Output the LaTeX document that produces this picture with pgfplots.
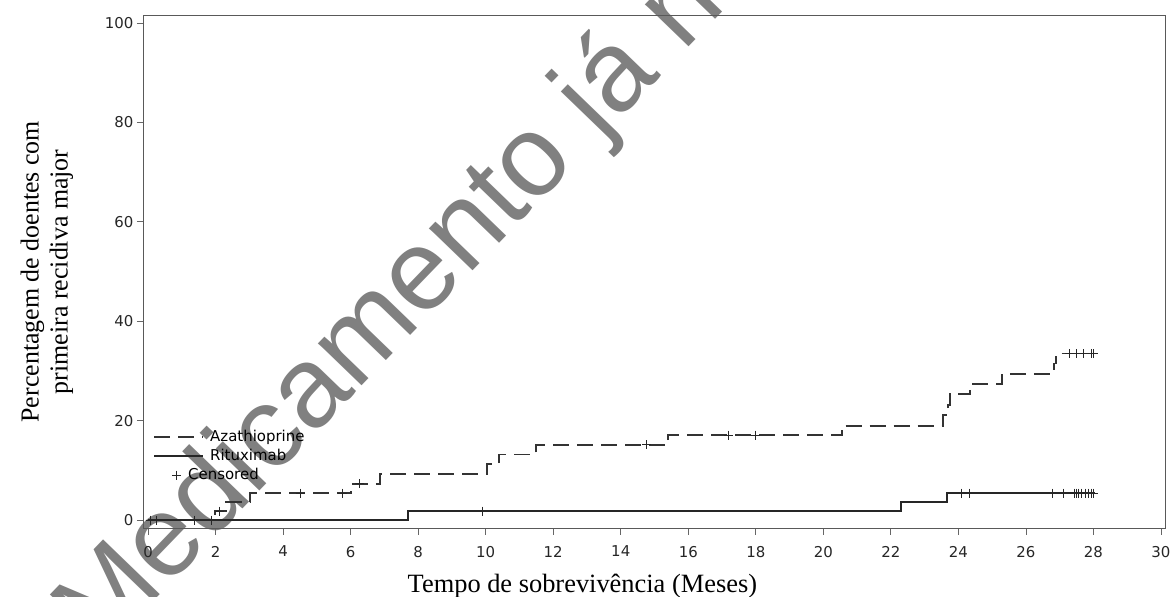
\documentclass[border=0pt]{standalone}
\usepackage{fontspec}
\setmainfont{DejaVu Sans}
\newfontfamily\serifl{Liberation Serif}
\newfontfamily\wmfont{Liberation Sans}
\usepackage{pgfplots}
\pgfplotsset{compat=1.18}
\usepackage{pgfplotstable}

\pgfplotsset{
  linelegend/.style={legend image code/.code={\draw[##1] (0bp,0bp) -- (49bp,0bp);}},
  censlegend/.style={legend image code/.code={\draw[##1] plot coordinates {(22bp,0bp)};}},
}

% Azathioprine: step curve (start of each step)
\pgfplotstableread{
x y
0 0
1.98 1.8
2.3 3.7
3.02 5.4
6.0 7.3
6.87 9.2
10.05 11.2
10.4 13.2
11.5 15.1
15.4 17.1
20.55 19.0
23.55 21.1
23.7 23.1
23.75 25.3
24.35 27.3
25.3 29.4
26.83 31.5
26.9 33.5
28.05 33.5
}\aza

\pgfplotstableread{
x y
2.13 1.8
4.5 5.4
5.77 5.4
6.25 7.3
14.77 15.1
17.2 17.1
18.0 17.1
27.3 33.5
27.5 33.5
27.7 33.5
27.95 33.5
28.0 33.5
}\azacens

% Rituximab
\pgfplotstableread{
x y
0 0
7.7 1.8
22.29 3.6
23.67 5.4
28.05 5.4
}\rit

\pgfplotstableread{
x y
0.06 0
0.26 0
1.39 0
1.89 0
9.9 1.8
24.09 5.4
24.34 5.4
26.78 5.4
27.12 5.4
27.45 5.4
27.5 5.4
27.55 5.4
27.65 5.4
27.75 5.4
27.85 5.4
27.95 5.4
28.0 5.4
}\ritcens

\begin{document}
\begin{tikzpicture}
% watermark
\node[font=\wmfont\fontsize{115}{115}\selectfont, text=black!50, rotate=46,
      anchor=base west, inner sep=0pt] at (100bp,-60bp)
      {Medicamento já não se encontra autorizado};
\begin{axis}[
    at={(143bp,68.5bp)}, anchor=south west,
    scale only axis, width=1022bp, height=513.5bp,
    xmin=-0.15, xmax=30.12, ymin=-1.7, ymax=101.6,
    xtick={0,2,...,30}, ytick={0,20,...,100},
    tick align=outside, xtick pos=bottom, ytick pos=left,
    major tick length=6bp,
    tick style={black!60, line width=0.8bp},
    axis line style={black!65, line width=0.8bp},
    ticklabel style={font=\fontsize{15}{15}\selectfont, text=black!85},
    xticklabel style={yshift=-8bp},
    /pgf/number format/assume math mode=true,
    xlabel={Tempo de sobrevivência (Meses)},
    xlabel style={font=\serifl\fontsize{26.5}{26.5}\selectfont,
        at={(axis description cs:0.2556,-0.1256)}, anchor=base west},
    ylabel={Percentagem de doentes com\\primeira recidiva major},
    ylabel style={font=\serifl\fontsize{26}{29}\selectfont, align=center,
        at={(axis description cs:-0.094,0.5)}, anchor=center},
    legend style={at={(axis description cs:0.010,0.197)}, anchor=north west,
        draw=none, fill=none, inner sep=0pt, column sep=4bp,
        font=\fontsize{15}{15}\selectfont,
        nodes={text height=10.5bp, text depth=2.5bp, inner ysep=3bp}},
    legend cell align=left,
]
\addplot[const plot, black!80, line width=1.8bp, dash pattern=on 16bp off 8bp,
    linelegend] table {\aza};
\addlegendentry{Azathioprine}
\addplot[const plot, black!85, line width=1.8bp, linelegend] table {\rit};
\addlegendentry{Rituximab}
\addplot[only marks, mark=+, mark size=4.5bp,
    mark options={solid, black!85, line width=1bp}, censlegend]
    table {\ritcens};
\addlegendentry{\hspace*{-22bp}Censored}
\addplot[only marks, mark=+, mark size=4.5bp,
    mark options={solid, black!85, line width=1bp}, forget plot]
    table {\azacens};
\end{axis}
\pgfresetboundingbox
\useasboundingbox (0,0) rectangle (1172bp,597bp);
\end{tikzpicture}
\end{document}
